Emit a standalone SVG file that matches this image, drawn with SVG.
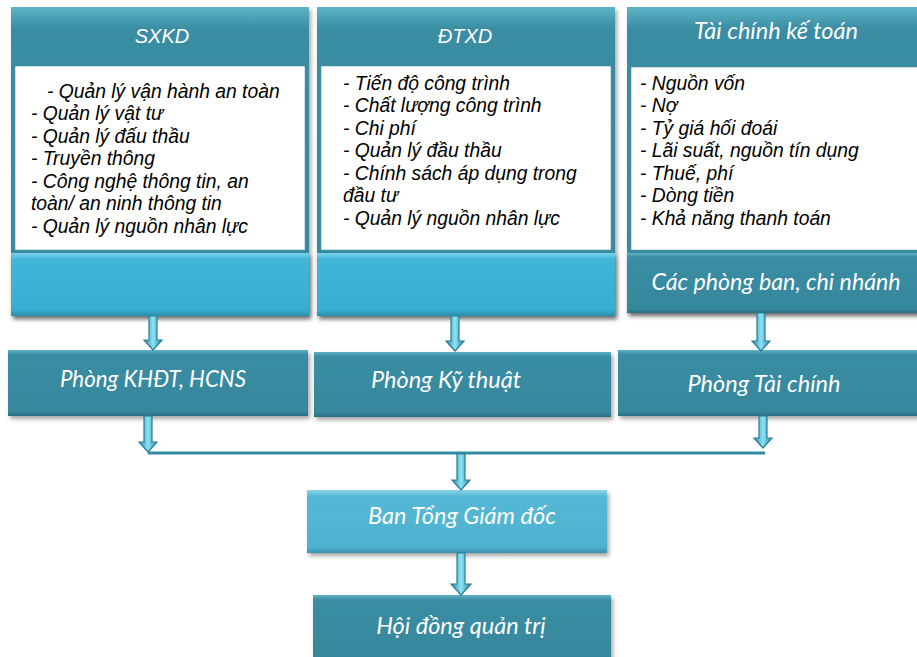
<svg xmlns="http://www.w3.org/2000/svg" width="917" height="657" viewBox="0 0 917 657">
<defs>
<linearGradient id="gTeal" x1="0" y1="0" x2="0" y2="1">
<stop offset="0" stop-color="#5FB3C6"/><stop offset="0.07" stop-color="#3A8DA3"/><stop offset="0.93" stop-color="#36879C"/><stop offset="1" stop-color="#2A6E80"/>
</linearGradient>
<linearGradient id="gCyan" x1="0" y1="0" x2="0" y2="1">
<stop offset="0" stop-color="#7FD3EA"/><stop offset="0.1" stop-color="#40B6D8"/><stop offset="0.9" stop-color="#38ADD0"/><stop offset="1" stop-color="#2A8EAE"/>
</linearGradient>
<linearGradient id="gLight" x1="0" y1="0" x2="0" y2="1">
<stop offset="0" stop-color="#8ED4E6"/><stop offset="0.1" stop-color="#55B8D5"/><stop offset="0.9" stop-color="#4EB2D0"/><stop offset="1" stop-color="#3A93AE"/>
</linearGradient>
<linearGradient id="gShaft" x1="0" y1="0" x2="1" y2="0">
<stop offset="0" stop-color="#2D8AA3"/><stop offset="0.5" stop-color="#8BE3F6"/><stop offset="1" stop-color="#2D8AA3"/>
</linearGradient>
<filter id="sh" x="-5%" y="-10%" width="112%" height="130%">
<feDropShadow dx="2" dy="3" stdDeviation="2" flood-color="#000" flood-opacity="0.35"/>
</filter>
<style>
.teal{fill:url(#gTeal);filter:url(#sh)}
.cyan{fill:url(#gCyan);filter:url(#sh)}
.light{fill:url(#gLight);filter:url(#sh)}
.body{fill:#fff;stroke:#3A8CA2;stroke-width:2.5}
.hd{font-family:"Liberation Sans",Arial,sans-serif;font-style:italic;font-size:20px;fill:#fff;text-anchor:middle}
.lb{font-family:Lato,"Open Sans",sans-serif;font-style:italic;font-size:23.5px;fill:#fff;text-anchor:middle}
.tx{font-family:"Liberation Sans",Arial,sans-serif;font-style:italic;font-size:19.3px;fill:#000}
.arr{fill:url(#gShaft);stroke:#2A7F96;stroke-width:1.2}
.hl{stroke:#2F8AA2;stroke-width:3;fill:none}
</style>
</defs>

<g id="col-sxkd">
<rect class="teal" x="11" y="7" width="298" height="309"/>
<rect class="cyan" x="11" y="253" width="298" height="63"/>
<rect class="body" x="14" y="65" width="292" height="186"/>
<text class="hd" x="162" y="43">SXKD</text>
<text class="tx" x="47" y="98">- Quản lý vận hành an toàn</text>
<text class="tx" x="31" y="120">- Quản lý vật tư</text>
<text class="tx" x="31" y="143">- Quản lý đấu thầu</text>
<text class="tx" x="31" y="165">- Truyền thông</text>
<text class="tx" x="31" y="188">- Công nghệ thông tin, an</text>
<text class="tx" x="31" y="210">toàn/ an ninh thông tin</text>
<text class="tx" x="31" y="233">- Quản lý nguồn nhân lực</text>
</g>

<g id="col-dtxd">
<rect class="teal" x="317" y="7" width="298" height="309"/>
<rect class="cyan" x="317" y="253" width="298" height="63"/>
<rect class="body" x="320" y="65" width="292" height="186"/>
<text class="hd" x="465" y="43">ĐTXD</text>
<text class="tx" x="343" y="90">- Tiến độ công trình</text>
<text class="tx" x="343" y="112">- Chất lượng công trình</text>
<text class="tx" x="343" y="135">- Chi phí</text>
<text class="tx" x="343" y="157">- Quản lý đầu thầu</text>
<text class="tx" x="343" y="180">- Chính sách áp dụng trong</text>
<text class="tx" x="343" y="202">đầu tư</text>
<text class="tx" x="343" y="225">- Quản lý nguồn nhân lực</text>
</g>

<g id="col-tckt">
<rect class="teal" x="627" y="7" width="300" height="306"/>
<rect class="teal" x="627" y="253" width="300" height="60"/>
<rect class="body" x="630" y="66" width="300" height="185"/>
<text class="lb" x="776" y="39">Tài chính kế toán</text>
<text class="tx" x="640" y="90">- Nguồn vốn</text>
<text class="tx" x="640" y="112">- Nợ</text>
<text class="tx" x="640" y="135">- Tỷ giá hối đoái</text>
<text class="tx" x="640" y="157">- Lãi suất, nguồn tín dụng</text>
<text class="tx" x="640" y="180">- Thuế, phí</text>
<text class="tx" x="640" y="202">- Dòng tiền</text>
<text class="tx" x="640" y="225">- Khả năng thanh toán</text>
<text class="lb" x="776" y="290" style="font-size:23.2px">Các phòng ban, chi nhánh</text>
</g>

<g id="phong-khdt">
<rect class="teal" x="8" y="350" width="300" height="66"/>
<text class="lb" x="153" y="387" style="font-size:22.3px">Phòng KHĐT, HCNS</text>
</g>
<g id="phong-kythuat">
<rect class="teal" x="314" y="352" width="297" height="65"/>
<text class="lb" x="446" y="388">Phòng Kỹ thuật</text>
</g>
<g id="phong-taichinh">
<rect class="teal" x="618" y="350" width="305" height="66"/>
<text class="lb" x="764" y="392">Phòng Tài chính</text>
</g>
<g id="ban-tgd">
<rect class="light" x="307" y="490" width="300" height="63"/>
<text class="lb" x="462" y="524">Ban Tổng Giám đốc</text>
</g>
<g id="hdqt">
<rect class="teal" x="313" y="595" width="298" height="70"/>
<text class="lb" x="461" y="634">Hội đồng quản trị</text>
</g>

<g id="connectors">
<path class="hl" d="M148 453 L765 453"/>
<polygon class="arr" points="149,316 157,316 157,340 162,340 153,350 144,340 149,340"/>
<polygon class="arr" points="451,316 459,316 459,341 464,341 455,351 446,341 451,341"/>
<polygon class="arr" points="757,313 765,313 765,341 770,341 761,351 752,341 757,341"/>
<polygon class="arr" points="144,416 152,416 152,442 157,442 148,452 139,442 144,442"/>
<polygon class="arr" points="759,416 767,416 767,438 772,438 763,448 754,438 759,438"/>
<polygon class="arr" points="457,454 465,454 465,480 470,480 461,490 452,480 457,480"/>
<polygon class="arr" points="457,553 465,553 465,584 471,584 461,595 451,584 457,584"/>
</g>
</svg>
